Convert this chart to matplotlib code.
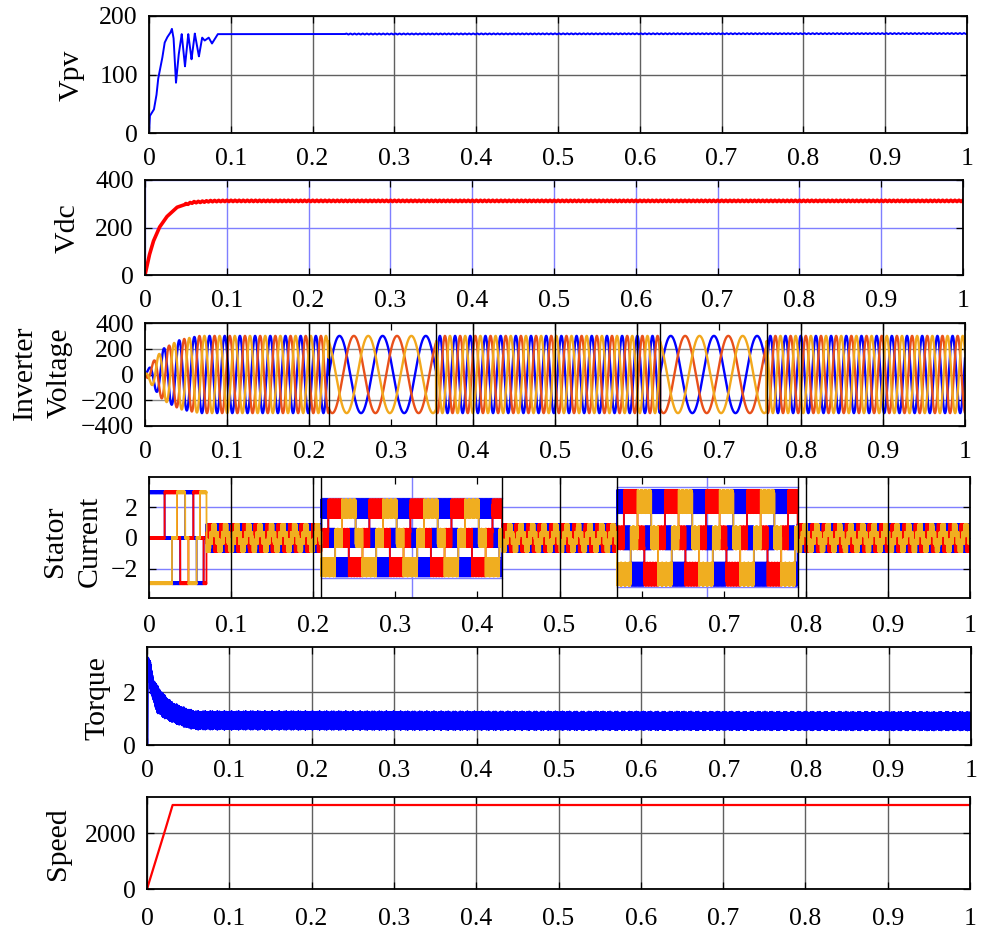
import numpy as np
import matplotlib.pyplot as plt

plt.rcParams["font.family"] = ["Liberation Serif", "DejaVu Serif"]

# ---------------- values ----------------
# PV voltage (keypoints of the start-up transient, then flat)
vpv_t = [0, 0.001, 0.006, 0.009, 0.011, 0.013, 0.016, 0.019, 0.022, 0.026, 0.028,
         0.030, 0.033, 0.036, 0.040, 0.044, 0.048, 0.052, 0.056, 0.061, 0.065,
         0.068, 0.073, 0.077, 0.084, 0.089, 1.0]
vpv_v = [0, 29, 40, 63, 91, 106, 126, 154, 163, 171, 178,
         163, 86, 131, 169, 114, 169, 126, 170, 131, 163,
         158, 163, 153, 169, 169, 170]
vpv_ripple = [0.24, 0.8, 200]          # start time, amplitude, frequency

# DC link voltage
vdc_t = [0, 0.005, 0.01, 0.0175, 0.0265, 0.039, 0.05, 0.059, 0.08, 0.1, 1.0]
vdc_v = [0, 80, 140, 200, 245, 285, 298, 306, 311, 312, 312]
vdc_ripple = [0.05, 3, 200]

# inverter voltage: segments of fast / slow three-phase output
inv_edges = [0, 0.224, 0.355, 0.628, 0.758, 1.0]
inv_freq = [54, 19, 54, 19, 54]
inv_env_t = [0, 0.01, 0.022, 0.043, 0.067, 1.0]
inv_env_a = [0, 100, 200, 270, 300, 300]
inv_lines = [0.1, 0.2, 0.224, 0.355, 0.4, 0.5, 0.6, 0.628, 0.758, 0.8, 0.9]

# stator current: six-step start-up, then segments
cur_start_switch = [0, 0.019, 0.028, 0.034, 0.038, 0.044, 0.048, 0.054, 0.058,
                    0.062, 0.0665, 0.07]
cur_start_level = 2.95
cur_edges = [0.07, 0.21, 0.43, 0.57, 0.79, 1.0]
cur_period = [0.014, 0.05, 0.014, 0.05, 0.014]
cur_level = [0.5, 1.9, 0.5, 2.35, 0.5]
cur_ripple = [0.4, 0.6, 0.4, 0.75, 0.4]
cur_black = [0.1, 0.2, 0.21, 0.43, 0.5, 0.57, 0.79, 0.8, 0.9]
cur_blue = [0.32, 0.68]
cur_boxes = [(0.21, 0.43, -2.6, 2.6), (0.57, 0.79, -3.2, 3.3)]
six_step = [(1, 0, -1), (0, 1, -1), (-1, 1, 0), (-1, 0, 1), (0, -1, 1), (1, -1, 0)]

# torque band (lower / upper edge)
tq_t = [0, 0.001, 0.0015, 0.004, 0.008, 0.012, 0.02, 0.03, 0.04, 0.05, 0.06, 1.0]
tq_lo = [0, 0, 2.6, 2.0, 1.6, 1.2, 1.0, 0.85, 0.72, 0.62, 0.56, 0.53]
tq_hi = [0, 0, 3.35, 3.2, 2.5, 2.3, 1.95, 1.65, 1.5, 1.38, 1.3, 1.27]

# speed
speed_t = [0, 0.02, 0.031, 1.0]
speed_v = [0, 1900, 3000, 3000]

xticks = [0, 0.1, 0.2, 0.3, 0.4, 0.5, 0.6, 0.7, 0.8, 0.9, 1]
xlabels = ["0", "0.1", "0.2", "0.3", "0.4", "0.5", "0.6", "0.7", "0.8", "0.9", "1"]

# ---------------- build signals ----------------
t = np.linspace(0, 1, 100001)


def tri(f):
    return 2 * np.abs(2 * ((f * t) % 1) - 1) - 1


vpv = np.interp(t, vpv_t, vpv_v)
vpv += np.where(t > vpv_ripple[0], vpv_ripple[1] * np.sin(2 * np.pi * vpv_ripple[2] * t), 0)

vdc = np.interp(t, vdc_t, vdc_v)
vdc += np.where(t > vdc_ripple[0], vdc_ripple[1] * tri(vdc_ripple[2]), 0)

env = np.interp(t, inv_env_t, inv_env_a)
inv = np.zeros((3, t.size))
for i in range(len(inv_freq)):
    m = (t >= inv_edges[i]) & (t <= inv_edges[i + 1])
    ph = 2 * np.pi * inv_freq[i] * (t[m] - inv_edges[i])
    for k in range(3):
        inv[k, m] = env[m] * np.sin(ph - k * 2 * np.pi / 3)

cur = np.zeros((3, t.size))
m = t < cur_start_switch[-1]
idx = np.searchsorted(cur_start_switch, t[m], side="right") - 1
st = np.array(six_step)[idx % 6].T
cur[:, m] = cur_start_level * st + 0.06 * tri(3000)[m]
for i in range(len(cur_period)):
    m = (t >= cur_edges[i]) & (t <= cur_edges[i + 1])
    step = np.floor((t[m] - cur_edges[i]) / (cur_period[i] / 6)).astype(int)
    st = np.array(six_step)[step % 6].T
    for k in range(3):
        cur[k, m] = cur_level[i] * st[k] + cur_ripple[i] * tri(3000 + 170 * k)[m]

lo = np.interp(t, tq_t, tq_lo)
hi = np.interp(t, tq_t, tq_hi)
rug = 0.85 + 0.15 * np.abs(np.sin(2 * np.pi * 173 * t) * np.sin(2 * np.pi * 61 * t))
torque = (lo + hi) / 2 + (hi - lo) / 2 * rug * tri(2300)

speed = np.interp(t, speed_t, speed_v)

# ---------------- figure ----------------
W, H = 984, 933
fig = plt.figure(figsize=(W / 100, H / 100), dpi=100)


def box(l, tp, r, b):
    return [l / W, 1 - b / H, (r - l) / W, (b - tp) / H]


def style(ax, ylim, yticks, gcolor, xgrid=True, xpad=11):
    ax.set_xlim(0, 1)
    ax.set_ylim(ylim)
    ax.set_xticks(xticks)
    ax.set_xticklabels(xlabels)
    ax.set_yticks(yticks)
    ax.tick_params(direction="in", top=True, right=True, length=5, width=0.9,
                   labelsize=18.5, colors="black")
    ax.tick_params(axis="x", pad=xpad)
    ax.tick_params(axis="y", pad=8)
    for s in ax.spines.values():
        s.set_linewidth(1.3)
    ax.grid(True, axis="y", color=gcolor, lw=1.0)
    if xgrid:
        ax.grid(True, axis="x", color=gcolor, lw=1.0)


def ylab(x, y, s):
    fig.text(x / W, 1 - y / H, s, rotation=90, ha="center", va="center", fontsize=21.5)


gray = "#606060"
lblue = "#7f7fff"

ax1 = fig.add_axes(box(149, 16, 967, 133))
ax1.plot(t, vpv, color="#0000ff", lw=1.4)
style(ax1, (0, 200), [0, 100, 200], gray)
ylab(72, 75, "Vpv")

ax2 = fig.add_axes(box(145, 180, 963, 275))
ax2.plot(t, vdc, color="#ff0000", lw=2.6)
style(ax2, (0, 400), [0, 200, 400], lblue)
ylab(68, 228, "Vdc")

ax3 = fig.add_axes(box(145, 323, 965, 426))
for k, c in enumerate(["#0000ff", "#e8501a", "#f2a81d"]):
    ax3.plot(t, inv[k], color=c, lw=1.7)
for x in inv_lines:
    ax3.axvline(x, color="black", lw=1.0, zorder=3)
style(ax3, (-400, 400), [-400, -200, 0, 200, 400], "#8a8a8a", xgrid=False)
ylab(25, 373, "Inverter")
ylab(60, 373, "Voltage")

ax4 = fig.add_axes(box(149, 477, 970, 598))
for k, c in enumerate(["#0000ff", "#ff0000", "#f0ae20"]):
    ax4.plot(t, cur[k], color=c, lw=1.3)
for x in cur_blue:
    ax4.axvline(x, color=lblue, lw=1.0, zorder=1.5)
for x0, x1, y0, y1 in cur_boxes:
    ax4.plot([x0, x1], [y0, y0], color=lblue, lw=1.0, zorder=1.5)
    ax4.plot([x0, x1], [y1, y1], color=lblue, lw=1.0, zorder=1.5)
for x in cur_black:
    ax4.axvline(x, color="black", lw=1.0, zorder=3)
style(ax4, (-3.9, 3.95), [-2, 0, 2], lblue, xgrid=False, xpad=12)
ylab(55, 541, "Stator")
ylab(90, 541, "Current")

ax5 = fig.add_axes(box(147, 647, 971, 745))
ax5.plot(t, torque, color="#0000ff", lw=0.9)
style(ax5, (0, 3.7), [0, 2], gray)
ylab(97, 698, "Torque")

ax6 = fig.add_axes(box(147, 797, 970, 889))
ax6.plot(t, speed, color="#ff0000", lw=1.6)
style(ax6, (0, 3286), [0, 2000], gray, xpad=14)
ylab(58, 844, "Speed")

fig.savefig("out.png", dpi=100)
